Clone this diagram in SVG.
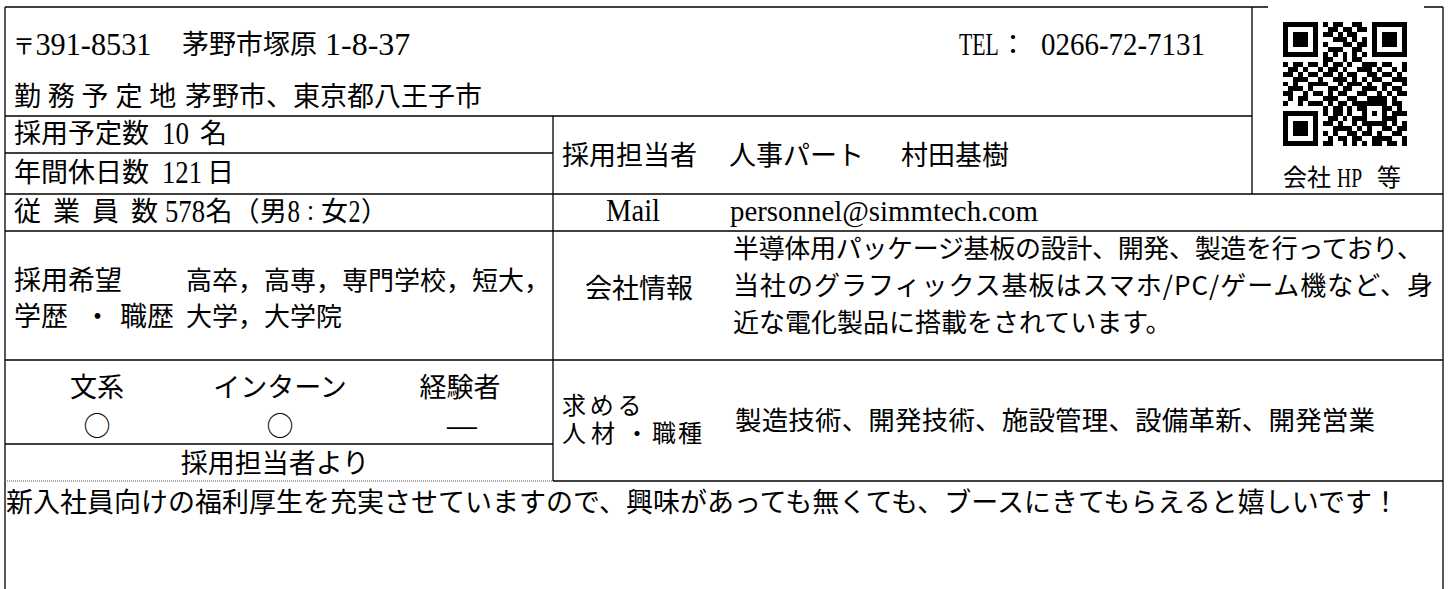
<svg xmlns="http://www.w3.org/2000/svg" width="1450" height="589" viewBox="0 0 1450 589">
<style>
.j{font-family:"Noto Sans CJK JP","Noto Sans CJK SC",sans-serif;font-size:27px;fill:#000}
.l{font-family:"Liberation Serif",serif;font-size:32px;fill:#000}
.ln{stroke:#000;stroke-width:1.3;fill:none}
.dot{stroke:#555;stroke-width:1;stroke-dasharray:1 1;fill:none}
.m{text-anchor:middle}
</style>
<rect width="1450" height="589" fill="#fff"/>
<g id="grid">
<path class="ln" d="M5 7H1268M1424 7H1443M5 7V589M1443 7V589M1252 7V194M5 116H1252M553 116V481M5 153H553M5 194H1443M5 231H1443M5 360H1443M5 444H553M553 481H1443"/>
<path class="dot" d="M5 481H553"/>
</g>
<g id="address">
<text class="j" y="54"><tspan x="13" style="font-size:22px">〒</tspan><tspan x="182">茅野市塚原</tspan></text>
<text class="l" transform="translate(35.5 55) scale(0.946 1)">391-8531</text>
<text class="l" transform="translate(325 55)">1-8-37</text>
<text class="l" transform="translate(959 55) scale(0.68 1)">TEL</text>
<text class="j" x="999.5" y="54">：</text>
<text class="l" transform="translate(1041 55) scale(0.905 1)">0266-72-7131</text>
<text class="j" y="106"><tspan x="14" letter-spacing="6.8">勤務予定地</tspan><tspan x="185" letter-spacing="0">茅野市、東京都八王子市</tspan></text>
</g>
<g id="qr">
<path fill="#000" shape-rendering="crispEdges" transform="translate(1283 22) scale(4.96)" d="M0 0h7v1h-7zM8 0h1v1h-1zM10 0h2v1h-2zM14 0h2v1h-2zM18 0h7v1h-7zM0 1h1v1h-1zM6 1h1v1h-1zM9 1h2v1h-2zM12 1h2v1h-2zM15 1h2v1h-2zM18 1h1v1h-1zM24 1h1v1h-1zM0 2h1v1h-1zM2 2h3v1h-3zM6 2h1v1h-1zM8 2h2v1h-2zM11 2h1v1h-1zM13 2h2v1h-2zM18 2h1v1h-1zM20 2h3v1h-3zM24 2h1v1h-1zM0 3h1v1h-1zM2 3h3v1h-3zM6 3h1v1h-1zM10 3h3v1h-3zM14 3h1v1h-1zM16 3h1v1h-1zM18 3h1v1h-1zM20 3h3v1h-3zM24 3h1v1h-1zM0 4h1v1h-1zM2 4h3v1h-3zM6 4h1v1h-1zM8 4h1v1h-1zM12 4h2v1h-2zM15 4h2v1h-2zM18 4h1v1h-1zM20 4h3v1h-3zM24 4h1v1h-1zM0 5h1v1h-1zM6 5h1v1h-1zM9 5h3v1h-3zM14 5h2v1h-2zM18 5h1v1h-1zM24 5h1v1h-1zM0 6h7v1h-7zM8 6h1v1h-1zM10 6h1v1h-1zM12 6h1v1h-1zM14 6h1v1h-1zM16 6h1v1h-1zM18 6h7v1h-7zM8 7h2v1h-2zM12 7h1v1h-1zM14 7h2v1h-2zM0 8h1v1h-1zM2 8h2v1h-2zM5 8h2v1h-2zM8 8h1v1h-1zM10 8h2v1h-2zM13 8h1v1h-1zM16 8h3v1h-3zM20 8h2v1h-2zM24 8h1v1h-1zM1 9h2v1h-2zM4 9h1v1h-1zM7 9h1v1h-1zM9 9h2v1h-2zM12 9h1v1h-1zM15 9h3v1h-3zM19 9h1v1h-1zM22 9h1v1h-1zM24 9h1v1h-1zM0 10h2v1h-2zM3 10h1v1h-1zM5 10h2v1h-2zM8 10h2v1h-2zM11 10h1v1h-1zM13 10h2v1h-2zM17 10h2v1h-2zM20 10h2v1h-2zM23 10h1v1h-1zM2 11h3v1h-3zM7 11h1v1h-1zM10 11h3v1h-3zM14 11h1v1h-1zM16 11h1v1h-1zM18 11h2v1h-2zM22 11h3v1h-3zM0 12h1v1h-1zM2 12h1v1h-1zM5 12h4v1h-4zM11 12h1v1h-1zM13 12h3v1h-3zM17 12h1v1h-1zM20 12h2v1h-2zM24 12h1v1h-1zM1 13h3v1h-3zM5 13h1v1h-1zM9 13h2v1h-2zM12 13h2v1h-2zM16 13h3v1h-3zM20 13h1v1h-1zM22 13h2v1h-2zM0 14h2v1h-2zM4 14h1v1h-1zM6 14h2v1h-2zM9 14h1v1h-1zM11 14h2v1h-2zM15 14h2v1h-2zM19 14h1v1h-1zM21 14h1v1h-1zM23 14h2v1h-2zM1 15h1v1h-1zM3 15h2v1h-2zM8 15h3v1h-3zM13 15h2v1h-2zM17 15h4v1h-4zM22 15h1v1h-1zM0 16h1v1h-1zM3 16h1v1h-1zM5 16h3v1h-3zM9 16h1v1h-1zM11 16h2v1h-2zM14 16h7v1h-7zM22 16h2v1h-2zM8 17h1v1h-1zM10 17h2v1h-2zM13 17h1v1h-1zM15 17h2v1h-2zM20 17h2v1h-2zM23 17h1v1h-1zM0 18h7v1h-7zM8 18h1v1h-1zM10 18h2v1h-2zM13 18h1v1h-1zM16 18h1v1h-1zM18 18h1v1h-1zM20 18h1v1h-1zM22 18h3v1h-3zM0 19h1v1h-1zM6 19h1v1h-1zM9 19h2v1h-2zM12 19h1v1h-1zM14 19h3v1h-3zM20 19h3v1h-3zM0 20h1v1h-1zM2 20h3v1h-3zM6 20h1v1h-1zM8 20h2v1h-2zM11 20h1v1h-1zM14 20h1v1h-1zM16 20h5v1h-5zM22 20h1v1h-1zM24 20h1v1h-1zM0 21h1v1h-1zM2 21h3v1h-3zM6 21h1v1h-1zM10 21h4v1h-4zM15 21h1v1h-1zM17 21h1v1h-1zM20 21h2v1h-2zM23 21h2v1h-2zM0 22h1v1h-1zM2 22h3v1h-3zM6 22h1v1h-1zM8 22h1v1h-1zM10 22h1v1h-1zM13 22h2v1h-2zM16 22h2v1h-2zM19 22h1v1h-1zM22 22h2v1h-2zM0 23h1v1h-1zM6 23h1v1h-1zM9 23h1v1h-1zM11 23h2v1h-2zM14 23h2v1h-2zM18 23h4v1h-4zM24 23h1v1h-1zM0 24h7v1h-7zM8 24h2v1h-2zM12 24h1v1h-1zM14 24h1v1h-1zM16 24h1v1h-1zM18 24h2v1h-2zM21 24h2v1h-2zM24 24h1v1h-1z"/>
<text class="j" y="186" style="font-size:24px"><tspan x="1283">会社</tspan><tspan x="1377">等</tspan></text>
<text class="l" transform="translate(1337 187) scale(0.7 1)" style="font-size:28px">HP</text>
</g>
<g id="facts">
<text class="j" y="143"><tspan x="14">採用予定数</tspan><tspan x="200">名</tspan></text>
<text class="l" transform="translate(162 144) scale(0.845 1)">10</text>
<text class="j" y="182"><tspan x="14">年間休日数</tspan><tspan x="207">日</tspan></text>
<text class="l" transform="translate(162 183) scale(0.833 1)">121</text>
<text class="j" y="221"><tspan x="14 41 53 80 92 119 131">従 業 員 数</tspan><tspan x="205.5">名</tspan><tspan x="232.5">（</tspan><tspan x="260">男</tspan><tspan x="300.5" style="font-size:20px">：</tspan><tspan x="321">女</tspan><tspan x="361">）</tspan></text>
<text class="l" transform="translate(165 222) scale(0.833 1)">578</text>
<text class="l" transform="translate(287.5 222) scale(0.78 1)">8</text>
<text class="l" transform="translate(348.5 222) scale(0.75 1)">2</text>
</g>
<g id="education">
<text class="j"><tspan x="14" y="290">採用希望</tspan><tspan x="14 41 84 120 147" y="326">学歴・職歴</tspan></text>
<text class="j" style="font-size:26px"><tspan x="186" y="290">高卒，高専，専門学校，短大，</tspan><tspan x="186" y="326">大学，大学院</tspan></text>
</g>
<g id="types">
<text class="j m"><tspan x="97" y="397">文系</tspan><tspan x="97" y="436">○</tspan></text>
<text class="j m"><tspan x="280" y="397">インターン</tspan><tspan x="280" y="436">○</tspan></text>
<text class="j m" x="460" y="397">経験者</text>
<text class="j m" transform="translate(462 436) scale(1.4 1)">—</text>
<text class="j m" x="275" y="473">採用担当者より</text>
</g>
<g id="contact">
<text class="j" y="165"><tspan x="562">採用担当者</tspan><tspan x="729">人事パート</tspan><tspan x="901">村田基樹</tspan></text>
<text class="l" transform="translate(606 221) scale(0.894 1)">Mail</text>
<text class="l" transform="translate(730 221) scale(0.9625 1)" style="font-size:30px">personnel@simmtech.com</text>
</g>
<g id="company">
<text class="j" x="585" y="298">会社情報</text>
<text class="j" style="font-size:26px"><tspan x="733" y="258" textLength="690">半導体用パッケージ基板の設計、開発、製造を行っており、</tspan><tspan x="733" y="295" textLength="700">当社のグラフィックス基板はスマホ/PC/ゲーム機など、身</tspan><tspan x="733" y="332">近な電化製品に搭載をされています。</tspan></text>
</g>
<g id="jobs">
<text class="j" style="font-size:24px"><tspan x="562" y="414" letter-spacing="3.7">求める</tspan><tspan x="562 591 625 652 678" y="442">人材・職種</tspan></text>
<text class="j" x="735" y="430" style="font-size:26.5px" textLength="640">製造技術、開発技術、施設管理、設備革新、開発営業</text>
</g>
<g id="message">
<text class="j" x="6" y="512">新入社員向けの福利厚生を充実させていますので、興味があっても無くても、ブースにきてもらえると嬉しいです！</text>
</g>
</svg>
